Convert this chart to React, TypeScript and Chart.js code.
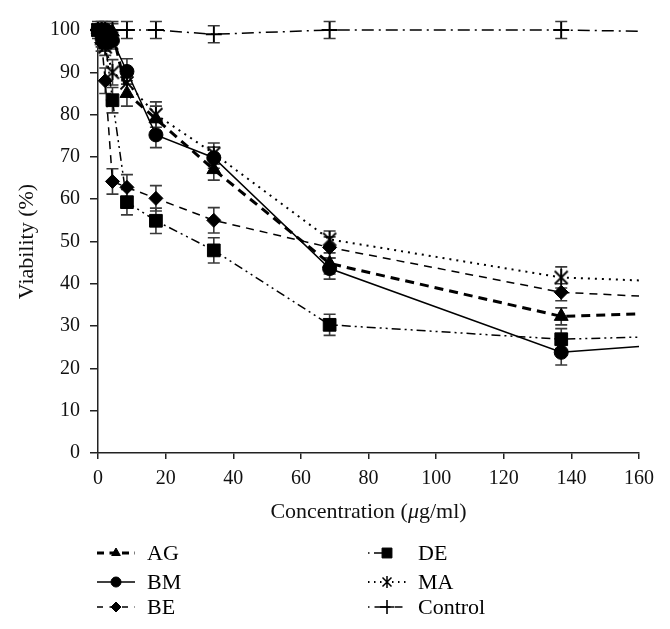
import React, { useEffect, useRef } from 'react';
import { Chart, registerables } from 'chart.js';
import { drawPoint } from 'chart.js/helpers';

Chart.register(...registerables);

// ---- data ----
const concentrations = [0, 1.07, 2.14, 4.28, 8.56, 17.13, 34.25, 68.5, 137, 160];
const agValues = [100, 100, 100, 99.5, 85, 79, 67, 44.8, 32.3, 32.9];
const bmValues = [100, 100, 100, 97.5, 90.2, 75.2, 69.8, 43.6, 23.8, 25.2];
const beValues = [100, 97, 88, 64.2, 62.8, 60.2, 55, 48.6, 38, 37.1];
const deValues = [100, 99, 97, 83.4, 59.3, 54.9, 47.9, 30.3, 26.9, 27.4];
const maValues = [100, 98, 96, 90, 87.5, 80, 70.8, 50.5, 41.5, 40.8];
const controlValues = [100, 100, 100, 100, 100, 100, 99, 100, 100, 99.7];

const agErrors = [1, 1, 1, 2, 3, 3, 2.5, 2.5, 2];
const bmErrors = [1, 1, 1, 2, 3, 3, 2.5, 2.5, 3];
const beErrors = [1, 2, 3, 3, 3, 3, 3, 2.5, 2];
const deErrors = [1, 2, 2, 3, 3, 3, 3, 2.5, 2.5];
const maErrors = [1, 2, 2, 3, 3, 3, 2.5, 2, 2.5];
const controlErrors = [2, 2, 2, 2, 2, 2, 2, 2, 2];

const seriesNames = ['AG', 'BM', 'BE', 'DE', 'MA', 'Control'];
const xTickMax = 160;
const xTickStep = 20;
const yTickMax = 100;
const yTickStep = 10;
const xTitleParts = ['Concentration (', 'μ', 'g/ml)'];
const yTitle = 'Viability (%)';

const FONT = "'Liberation Serif', 'DejaVu Serif', serif";

function makeAsterisk(size: number, lw: number) {
  const c = document.createElement('canvas');
  c.width = size;
  c.height = size;
  const g = c.getContext('2d')!;
  g.strokeStyle = '#000';
  g.lineWidth = lw;
  const m = 1.5;
  g.beginPath();
  g.moveTo(m, m); g.lineTo(size - m, size - m);
  g.moveTo(size - m, m); g.lineTo(m, size - m);
  g.moveTo(size / 2, 0); g.lineTo(size / 2, size);
  g.stroke();
  return c;
}

const errorBarPlugin = {
  id: 'errorBars',
  beforeDatasetsDraw(chart: any) {
    const { ctx, scales } = chart;
    const xs = scales.x, ys = scales.y;
    ctx.save();
    ctx.strokeStyle = '#3a3a3a';
    ctx.lineWidth = 1.6;
    ctx.setLineDash([]);
    chart.data.datasets.forEach((ds: any) => {
      const errs = ds.errors as number[];
      if (!errs) return;
      ds.data.forEach((p: any, i: number) => {
        const e = errs[i];
        if (e == null) return;
        const x = xs.getPixelForValue(p.x);
        const yt = ys.getPixelForValue(p.y + e);
        const yb = ys.getPixelForValue(p.y - e);
        const cw = 6;
        ctx.beginPath();
        ctx.moveTo(x, yt); ctx.lineTo(x, yb);
        ctx.moveTo(x - cw, yt); ctx.lineTo(x + cw, yt);
        ctx.moveTo(x - cw, yb); ctx.lineTo(x + cw, yb);
        ctx.stroke();
      });
    });
    ctx.restore();
  },
};

const xTitlePlugin = {
  id: 'xTitle',
  afterDraw(chart: any, _a: any, o: any) {
    const { ctx, chartArea } = chart;
    ctx.save();
    ctx.fillStyle = '#111';
    ctx.textBaseline = 'middle';
    ctx.textAlign = 'left';
    const normal = `22px ${FONT}`;
    const italic = `italic 22px ${FONT}`;
    const fonts = [normal, italic, normal];
    let total = 0;
    const widths = xTitleParts.map((t, i) => {
      ctx.font = fonts[i];
      const w = ctx.measureText(t).width;
      total += w;
      return w;
    });
    let x = (chartArea.left + chartArea.right) / 2 - total / 2;
    xTitleParts.forEach((t, i) => {
      ctx.font = fonts[i];
      ctx.fillText(t, x, o.y);
      x += widths[i];
    });
    ctx.restore();
  },
};

const legendPlugin = {
  id: 'customLegend',
  afterDraw(c: any, _a: any, o: any) {
    const { ctx } = c;
    ctx.save();
    c.data.datasets.forEach((ds: any, i: number) => {
      const col = Math.floor(i / 3);
      const row = i % 3;
      const x0 = o.columns[col];
      const x1 = x0 + o.sampleWidth;
      const y = o.rows[row];
      ctx.strokeStyle = '#000';
      ctx.lineWidth = ds.borderWidth;
      ctx.setLineDash(ds.legendDash || []);
      ctx.beginPath();
      ctx.moveTo(x0, y);
      ctx.lineTo(x1, y);
      ctx.stroke();
      ctx.setLineDash([]);
      ctx.fillStyle = '#000';
      ctx.strokeStyle = '#000';
      ctx.lineWidth = ds.legendPointBorder;
      drawPoint(ctx, {
        pointStyle: ds.legendPointStyle || ds.pointStyle,
        radius: ds.legendPointStyleRadius || 5,
        rotation: 0,
        borderWidth: ds.legendPointBorder,
      } as any, (x0 + x1) / 2, y);
      ctx.font = `22px ${FONT}`;
      ctx.fillStyle = '#000';
      ctx.textBaseline = 'middle';
      ctx.textAlign = 'left';
      ctx.fillText(ds.label, x1 + o.textGap, y + 1);
    });
    ctx.restore();
  },
};

export default function App() {
  const ref = useRef<HTMLCanvasElement>(null);
  useEffect(() => {
    if (!ref.current) return;
    const asterisk = makeAsterisk(16, 1.8);
    const asteriskSmall = makeAsterisk(12, 1.5);
    const valuesList = [agValues, bmValues, beValues, deValues, maValues, controlValues];
    const errorsList = [agErrors, bmErrors, beErrors, deErrors, maErrors, controlErrors];
    const styles: any[] = [
      { pointStyle: 'triangle', radius: 8, borderWidth: 3, borderDash: [9, 6], legendDash: [7, 5.5], legendRadius: 5 },
      { pointStyle: 'circle', radius: 7, borderWidth: 1.5, borderDash: [], legendDash: [], legendRadius: 5 },
      { pointStyle: 'rectRot', radius: 7, borderWidth: 1.5, borderDash: [8, 6], legendDash: [6, 6.5], legendRadius: 5 },
      { pointStyle: 'rect', radius: 9, borderWidth: 1.5, borderDash: [9, 4, 2, 4, 2, 4], legendDash: [1.5, 4.5, 12, 20, 1.5, 4.5], legendRadius: 7 },
      { pointStyle: asterisk, radius: 8, borderWidth: 2, borderDash: [2, 5], legendDash: [1.5, 4.5], legendPointStyle: asteriskSmall },
      { pointStyle: 'cross', radius: 8, borderWidth: 1.5, borderDash: [12, 5, 2, 5], legendDash: [1.5, 5, 16, 4, 8, 4], legendRadius: 7 },
    ];
    const last = concentrations.length - 1;
    const datasets = seriesNames.map((name, i) => {
      const st = styles[i];
      return {
        label: name,
        data: concentrations.map((c, j) => ({ x: c, y: valuesList[i][j] })),
        errors: errorsList[i],
        borderColor: '#000',
        backgroundColor: '#000',
        borderWidth: st.borderWidth,
        borderDash: st.borderDash,
        legendDash: st.legendDash,
        pointStyle: st.pointStyle,
        pointRadius: (ctx: any) => (ctx.dataIndex === last ? 0 : st.radius),
        pointBorderWidth: st.pointStyle === 'cross' ? 1.8 : 1,
        pointBorderColor: '#000',
        pointBackgroundColor: '#000',
        legendPointStyle: st.legendPointStyle,
        legendPointStyleRadius: st.legendRadius,
        legendPointBorder: st.pointStyle === 'cross' ? 1.6 : 1,
        tension: 0,
        clip: false as any,
        fill: false,
      };
    });
    const chart = new Chart(ref.current, {
      type: 'line',
      data: { datasets: datasets as any },
      options: {
        responsive: true,
        maintainAspectRatio: false,
        animation: false,
        layout: { padding: { top: 13, right: 21, left: 0, bottom: 0 } },
        plugins: {
          legend: { display: false },
          tooltip: { enabled: false },
          customLegend: { columns: [89, 360], rows: [545, 574, 599], sampleWidth: 38, textGap: 12 },
          xTitle: { y: 504 },
        } as any,
        scales: {
          x: {
            type: 'linear',
            min: 0,
            max: xTickMax,
            ticks: { stepSize: xTickStep, color: '#111', font: { family: FONT, size: 20 }, padding: 8, maxRotation: 0 },
            grid: { display: true, drawOnChartArea: false, drawTicks: true, tickLength: 6, color: '#222', lineWidth: 1.5 },
            border: { display: true, color: '#222', width: 1.5 },
            title: { display: false },
            afterFit: (s: any) => { s.height = 168; },
          },
          y: {
            type: 'linear',
            min: 0,
            max: yTickMax,
            ticks: { stepSize: yTickStep, color: '#111', font: { family: FONT, size: 20 }, padding: 10 },
            grid: { display: true, drawOnChartArea: false, drawTicks: true, tickLength: 8, color: '#222', lineWidth: 1.5 },
            border: { display: true, color: '#222', width: 1.5 },
            title: { display: true, text: yTitle, color: '#111', font: { family: FONT, size: 22 }, padding: { top: 6, bottom: 4 } },
            afterFit: (s: any) => { s.width = 90; },
          },
        },
      },
      plugins: [errorBarPlugin, xTitlePlugin, legendPlugin],
    });
    return () => chart.destroy();
  }, []);
  return (
    <div style={{ width: 654, height: 613, position: 'relative' }}>
      <canvas ref={ref} />
    </div>
  );
}
